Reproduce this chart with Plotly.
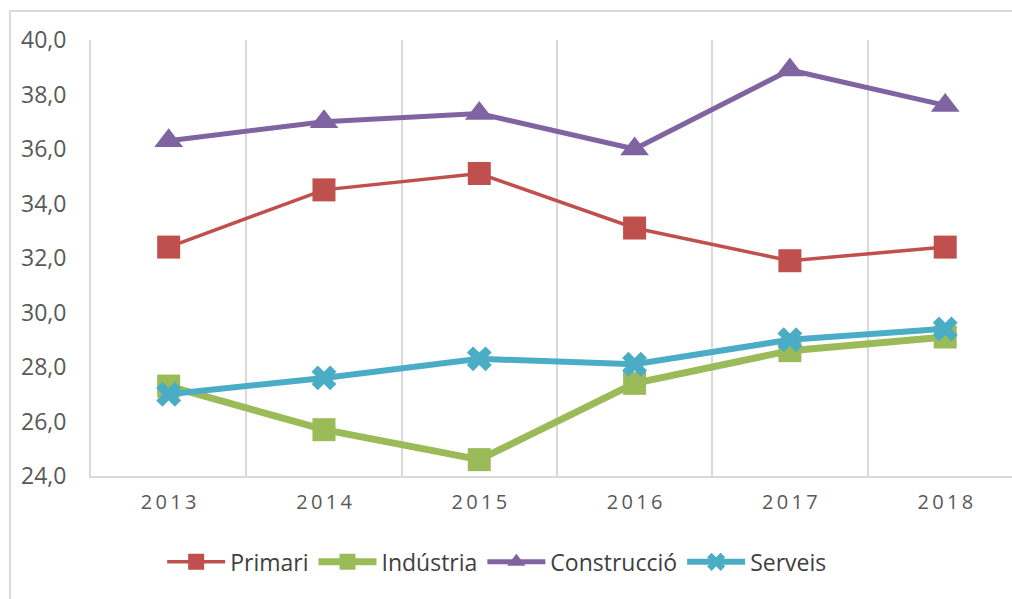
import plotly.graph_objects as go

years = [2013, 2014, 2015, 2016, 2017, 2018]
year_labels = ["2013", "2014", "2015", "2016", "2017", "2018"]
primari = [32.4, 34.5, 35.1, 33.1, 31.9, 32.4]
industria = [27.3, 25.7, 24.6, 27.4, 28.6, 29.1]
construccio = [36.3, 37.0, 37.3, 36.0, 38.9, 37.6]
serveis = [27.0, 27.6, 28.3, 28.1, 29.0, 29.4]

series = [
    ("Primari", primari, "#C0504D", 3.5, "square", 23),
    ("Indústria", industria, "#9BBB59", 7, "square", 23),
    ("Construcció", construccio, "#8064A2", 5, "triangle-up", 25),
    ("Serveis", serveis, "#4BACC6", 6, "x", 22),
]

font_family = "'Open Sans', Lato, sans-serif"

fig = go.Figure()
for name, vals, color, lw, sym, ms in series:
    fig.add_trace(go.Scatter(
        x=years, y=vals, name=name, mode="lines+markers",
        line=dict(color=color, width=lw),
        marker=dict(symbol=sym, size=ms, color=color, line=dict(width=0)),
    ))

spaced = ["\u2009".join(list(s)) for s in year_labels]

fig.update_layout(
    width=1012, height=599,
    margin=dict(l=91, r=0, t=40, b=123),
    paper_bgcolor="white", plot_bgcolor="white",
    separators=", ",
    font=dict(family=font_family, color="#595959"),
    showlegend=True,
    legend=dict(orientation="h", x=0.441, xanchor="center", y=-0.197, yanchor="middle",
                font=dict(size=23, color="#404040"), itemwidth=58,
                tracegroupgap=0, itemsizing="trace"),
    xaxis=dict(
        range=[2012.5, 2018.43], tickvals=years, ticktext=spaced,
        showgrid=False, zeroline=False,
        showline=True, linecolor="#d9d9d9", linewidth=2,
        ticks="outside", ticklen=7, tickcolor="rgba(0,0,0,0)",
        tickfont=dict(size=20, color="#595959"),
        minor=dict(tickvals=[2013.5, 2014.5, 2015.5, 2016.5, 2017.5],
                   showgrid=True, gridcolor="#d9d9d9", gridwidth=2, ticks=""),
    ),
    yaxis=dict(
        range=[24, 40], dtick=2, tick0=24, tickformat=".1f",
        showgrid=False, zeroline=False,
        showline=True, linecolor="#d9d9d9", linewidth=2,
        ticks="outside", ticklen=18, tickcolor="rgba(0,0,0,0)",
        tickfont=dict(size=23, color="#595959"),
    ),
    shapes=[dict(type="rect", xref="paper", yref="paper",
                 x0=-0.088, x1=1.2, y0=-0.6, y1=1.0665,
                 line=dict(color="#d9d9d9", width=2), fillcolor="rgba(0,0,0,0)",
                 layer="below")],
)

fig.write_html("out.html", config={"displayModeBar": False},
               post_script="document.body.style.margin='0';document.body.style.overflow='hidden';")
